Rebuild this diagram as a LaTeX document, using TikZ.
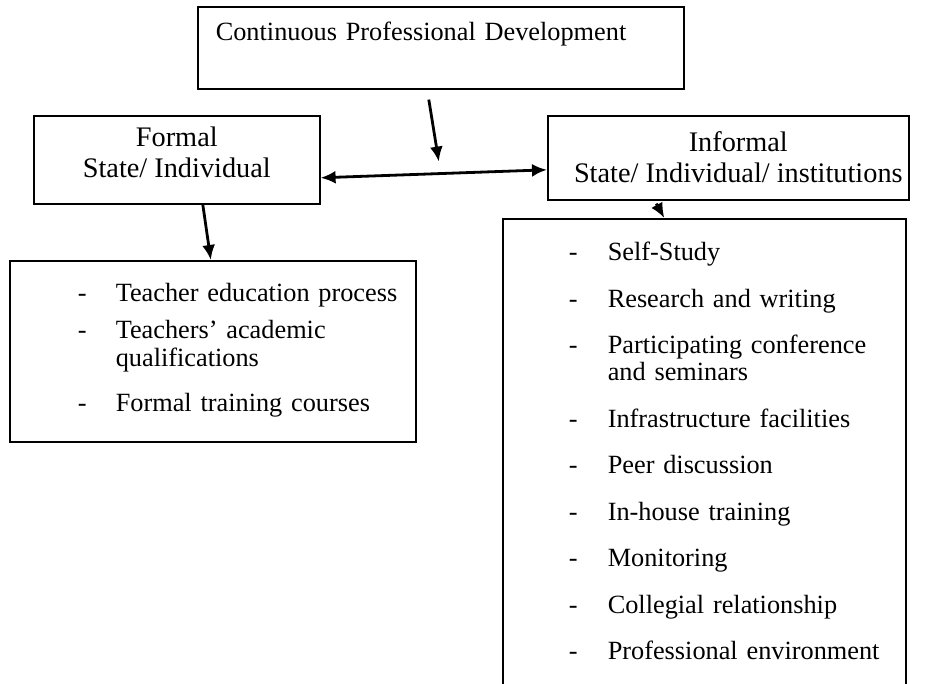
\documentclass[tikz,border=0pt]{standalone}
\usepackage{fontspec}
\setmainfont{Liberation Serif}
\usetikzlibrary{arrows.meta,positioning}

\begin{document}
\begin{tikzpicture}[x=1pt,y=-1pt,
      box/.style={draw,line width=1.6pt,inner sep=0pt},
      link/.style={draw,line width=2.8pt,->,>={Latex[length=15pt,width=13pt]}},
      head/.style={font=\fontsize{28.3}{31}\selectfont,align=center},
      lst/.style={font=\fontsize{26.3}{27}\selectfont,align=left}]
      \useasboundingbox (0,0) rectangle (926,684);
      \clip (0,0) rectangle (926,684);
      \node[box,anchor=north west,text width=450pt,align=left,inner xsep=18pt,text height=34pt,text depth=48pt,font=\fontsize{26.3}{30}\selectfont] (cpd) at (197,6) {Continuous Professional Development};
      \node[box,head,anchor=north west,minimum width=286pt,text height=62pt,text depth=26pt] (formal) at (33,115) {Formal\\State/ Individual};
      \node[box,head,anchor=north west,minimum width=361pt,text height=67pt,text depth=17pt] (informal) at (547,115) {\hspace*{20pt}Informal\\\hspace*{20pt}State/ Individual/ institutions};
      \node[box,lst,anchor=north west,text width=406pt,text height=41pt,text depth=140pt] (formallist) at (9,260) {%
        \begin{tabular}[t]{@{\hspace{68pt}}p{38pt}@{}l@{}}
          - & Teacher education process\\[10pt]
          - & Teachers' academic\\[1pt]
            & qualifications\\[18pt]
          - & Formal training courses
        \end{tabular}};
      \node[box,lst,anchor=north west,text width=403pt,text height=42pt,text depth=592pt] (informallist) at (502,218) {%
        \begin{tabular}[t]{@{\hspace{66pt}}p{39pt}@{}l@{}}
          - & Self-Study\\[19.5pt]
          - & Research and writing\\[19.5pt]
          - & Participating conference\\
            & and seminars\\[19.5pt]
          - & Infrastructure facilities\\[19.5pt]
          - & Peer discussion\\[19.5pt]
          - & In-house training\\[19.5pt]
          - & Monitoring\\[19.5pt]
          - & Collegial relationship\\[19.5pt]
          - & Professional environment
        \end{tabular}};
      % arrows
      \path[link] ([xshift=-12pt,yshift=-10pt]cpd.south) -- ([xshift=-2pt,yshift=-72pt]cpd.south);
      \path[link,<->] ([yshift=-18pt]formal.east) -- ([yshift=-12pt]informal.west);
      \path[link] ([xshift=26pt]formal.south) -- ([xshift=-2pt]formallist.north);
      \path[link] ([xshift=-72pt,yshift=-3pt]informal.south) -- ([xshift=-40pt]informallist.north);
\end{tikzpicture}
\end{document}
